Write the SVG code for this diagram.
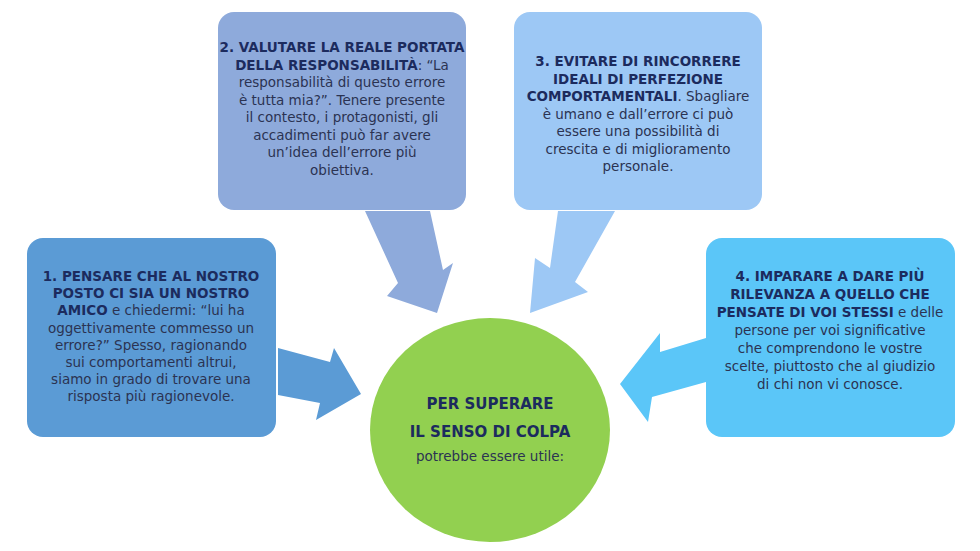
<svg xmlns="http://www.w3.org/2000/svg" width="980" height="551" viewBox="0 0 980 551">
<style>
text{font-family:"DejaVu Sans","Liberation Sans",sans-serif;font-size:13.5px;fill:#2b3352;text-anchor:middle}
.b{font-weight:bold;fill:#1c2b5e}
.c{font-size:15px;font-weight:bold;fill:#1c2b5e}
</style>
<rect width="980" height="551" fill="#fff"/>
<g id="connectors">
<polygon fill="#5b9bd5" points="278,348 330,362 334,348 361,394 316,420 320,403 278,395"/>
<polygon fill="#8eaadb" points="365,211 430,211 443,270 453,263 437,313 387,296 398,283"/>
<polygon fill="#9dc8f5" points="558,211 615,211 575,282 588,292 530,313 535,258 550,268"/>
<polygon fill="#5bc6f8" points="706,338 660,352 660,333 620,384 648,422 652,397 706,382"/>
</g>
<g id="box1"><rect x="27" y="238" width="249" height="199" rx="16" fill="#5b9bd5"/>
<text x="151" y="281"><tspan class="b">1. PENSARE CHE AL NOSTRO</tspan><tspan x="151" dy="17.2" class="b">POSTO CI SIA UN NOSTRO</tspan><tspan x="151" dy="17.2"><tspan class="b">AMICO</tspan> e chiedermi: “lui ha</tspan><tspan x="151" dy="17.2">oggettivamente commesso un</tspan><tspan x="151" dy="17.2">errore?” Spesso, ragionando</tspan><tspan x="151" dy="17.2">sui comportamenti altrui,</tspan><tspan x="151" dy="17.2">siamo in grado di trovare una</tspan><tspan x="151" dy="17.2">risposta più ragionevole.</tspan></text></g>
<g id="box2"><rect x="218" y="12" width="248" height="198" rx="16" fill="#8eaadb"/>
<text x="342" y="52"><tspan class="b">2. VALUTARE LA REALE PORTATA</tspan><tspan x="342" dy="17.5"><tspan class="b">DELLA RESPONSABILITÀ</tspan>: “La</tspan><tspan x="342" dy="17.5">responsabilità di questo errore</tspan><tspan x="342" dy="17.5">è tutta mia?”. Tenere presente</tspan><tspan x="342" dy="17.5">il contesto, i protagonisti, gli</tspan><tspan x="342" dy="17.5">accadimenti può far avere</tspan><tspan x="342" dy="17.5">un’idea dell’errore più</tspan><tspan x="342" dy="17.5">obiettiva.</tspan></text></g>
<g id="box3"><rect x="514" y="12" width="248" height="198" rx="16" fill="#9dc8f5"/>
<text x="638" y="66"><tspan class="b">3. EVITARE DI RINCORRERE</tspan><tspan x="638" dy="17.5" class="b">IDEALI DI PERFEZIONE</tspan><tspan x="638" dy="17.5"><tspan class="b">COMPORTAMENTALI</tspan>. Sbagliare</tspan><tspan x="638" dy="17.5">è umano e dall’errore ci può</tspan><tspan x="638" dy="17.5">essere una possibilità di</tspan><tspan x="638" dy="17.5">crescita e di miglioramento</tspan><tspan x="638" dy="17.5">personale.</tspan></text></g>
<g id="box4"><rect x="706" y="238" width="249" height="199" rx="16" fill="#5bc6f8"/>
<text x="830" y="281"><tspan class="b">4. IMPARARE A DARE PIÙ</tspan><tspan x="830" dy="18" class="b">RILEVANZA A QUELLO CHE</tspan><tspan x="830" dy="18"><tspan class="b">PENSATE DI VOI STESSI</tspan> e delle</tspan><tspan x="830" dy="18">persone per voi significative</tspan><tspan x="830" dy="18">che comprendono le vostre</tspan><tspan x="830" dy="18">scelte, piuttosto che al giudizio</tspan><tspan x="830" dy="18">di chi non vi conosce.</tspan></text></g>
<g id="center"><ellipse cx="490" cy="430" rx="120" ry="112" fill="#92d050"/>
<text x="490" y="409" class="c">PER SUPERARE</text>
<text x="490" y="437" class="c">IL SENSO DI COLPA</text>
<text x="490" y="461">potrebbe essere utile:</text></g>
</svg>
